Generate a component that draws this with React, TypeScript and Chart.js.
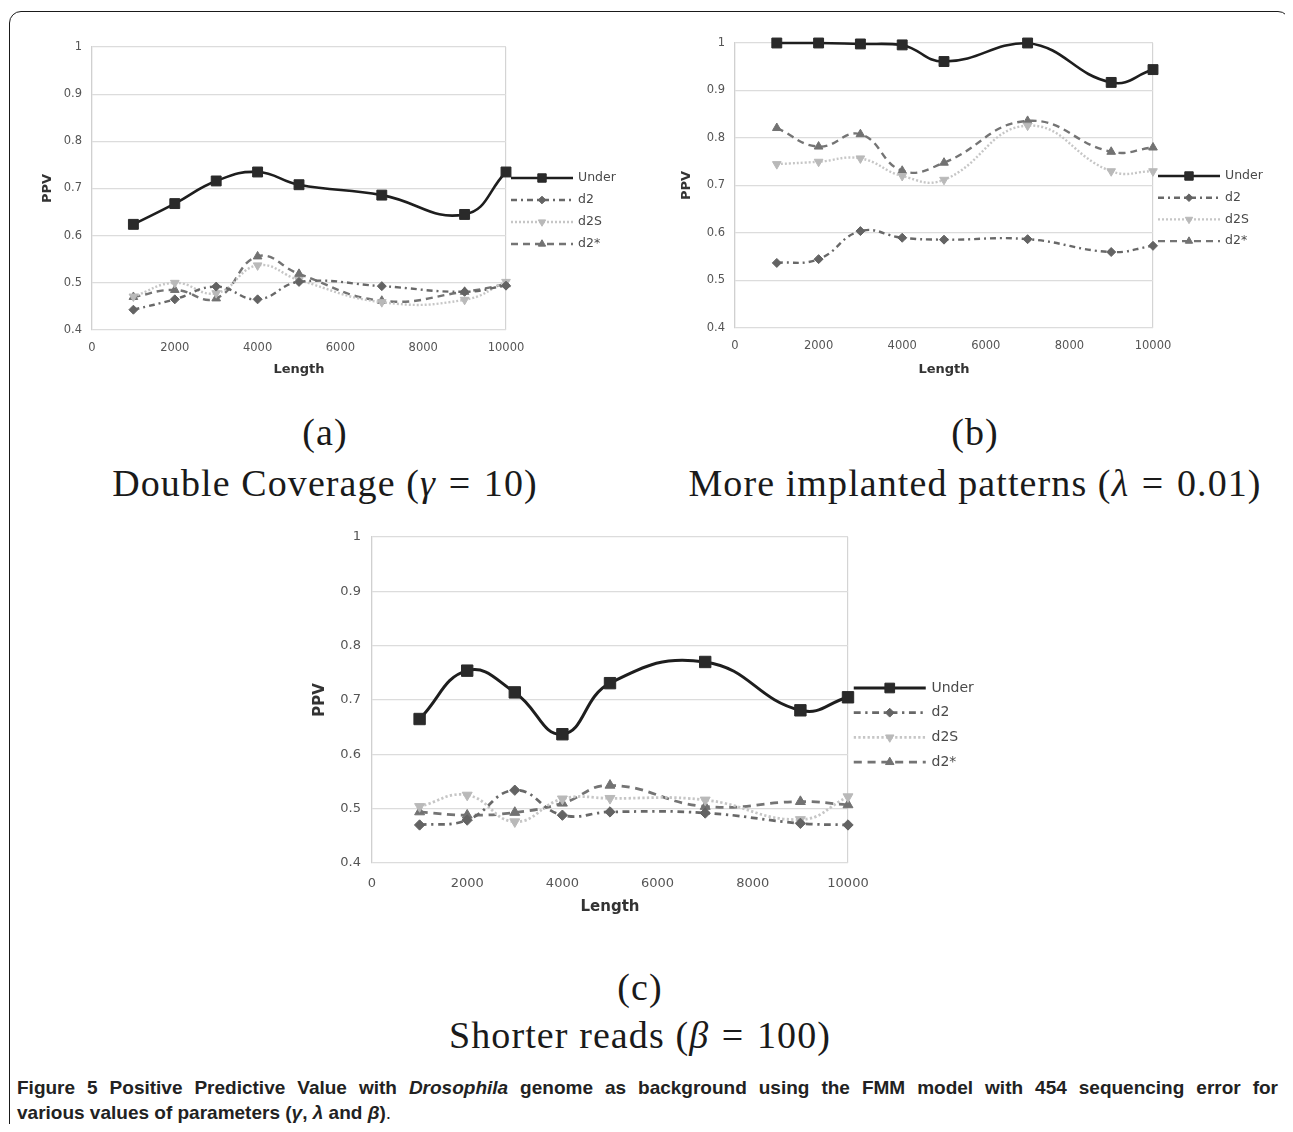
import React, { useEffect, useRef } from "react";
import { Chart, registerables } from "chart.js";
import { drawPoint } from "chart.js/helpers";

Chart.register(...registerables);

// ---------- data ----------
const lengths = [1000, 2000, 3000, 4000, 5000, 7000, 9000, 10000];
const seriesNames = ["Under", "d2", "d2S", "d2*"];
const xTickValues = [0, 2000, 4000, 6000, 8000, 10000];
const xTickLabels = ["0", "2000", "4000", "6000", "8000", "10000"];
const yTickValues = [0.4, 0.5, 0.6, 0.7, 0.8, 0.9, 1];
const yTickLabels = ["0.4", "0.5", "0.6", "0.7", "0.8", "0.9", "1"];
const xAxisTitle = "Length";
const yAxisTitle = "PPV";

// (a) Double coverage
const aUnder = [0.624, 0.668, 0.716, 0.735, 0.708, 0.686, 0.645, 0.735];
const aD2 = [0.443, 0.465, 0.492, 0.465, 0.502, 0.493, 0.481, 0.494];
const aD2S = [0.471, 0.5, 0.478, 0.537, 0.506, 0.459, 0.464, 0.502];
const aD2Star = [0.47, 0.485, 0.467, 0.556, 0.519, 0.462, 0.481, 0.497];

// (b) More implanted patterns
const bUnder = [1.0, 1.0, 0.998, 0.996, 0.961, 1.0, 0.917, 0.944];
const bD2 = [0.537, 0.545, 0.604, 0.59, 0.586, 0.587, 0.56, 0.573];
const bD2S = [0.745, 0.75, 0.757, 0.72, 0.712, 0.826, 0.73, 0.73];
const bD2Star = [0.821, 0.782, 0.808, 0.731, 0.748, 0.836, 0.771, 0.78];

// (c) Shorter reads
const cUnder = [0.665, 0.754, 0.714, 0.637, 0.731, 0.77, 0.681, 0.705];
const cD2 = [0.47, 0.479, 0.534, 0.488, 0.494, 0.492, 0.473, 0.47];
const cD2S = [0.504, 0.525, 0.476, 0.518, 0.519, 0.516, 0.48, 0.522];
const cD2Star = [0.494, 0.488, 0.493, 0.51, 0.543, 0.504, 0.513, 0.507];

// ---------- styles ----------
const seriesStyles = [
  { color: "#1e1e1e", width: 2.6, dash: [] as number[], point: "rect", radius: 7, rotation: 0, pointColor: "#2a2a2a" },
  { color: "#686868", width: 2.4, dash: [6, 4, 2, 4], point: "rectRot", radius: 4.5, rotation: 0, pointColor: "#636363" },
  { color: "#c6c6c6", width: 2.4, dash: [2, 2], point: "triangle", radius: 5, rotation: 180, pointColor: "#b9b9b9" },
  { color: "#747474", width: 2.4, dash: [7, 5], point: "triangle", radius: 5, rotation: 0, pointColor: "#727272" },
];

const FONT = "'DejaVu Sans', 'Liberation Sans', sans-serif";

const sideLegendPlugin = {
  id: "sideLegend",
  afterDraw(chart: any, _args: any, opts: any) {
    const { ctx, chartArea } = chart;
    const x0 = chartArea.right + opts.gap;
    chart.data.datasets.forEach((ds: any, i: number) => {
      const y = opts.top + i * opts.spacing;
      ctx.save();
      ctx.strokeStyle = ds.borderColor;
      ctx.lineWidth = ds.borderWidth;
      ctx.setLineDash(ds.borderDash || []);
      ctx.beginPath();
      ctx.moveTo(x0, y);
      ctx.lineTo(x0 + opts.lineLen, y);
      ctx.stroke();
      ctx.setLineDash([]);
      ctx.fillStyle = ds.pointBackgroundColor;
      ctx.strokeStyle = ds.pointBorderColor;
      ctx.lineWidth = 1;
      drawPoint(
        ctx,
        { pointStyle: ds.pointStyle, rotation: ds.pointRotation, radius: ds.pointRadius * 0.85, borderWidth: 1 } as any,
        x0 + opts.lineLen / 2,
        y
      );
      ctx.fillStyle = opts.color;
      ctx.font = `${opts.fontSize}px ${FONT}`;
      ctx.textBaseline = "middle";
      ctx.textAlign = "left";
      ctx.fillText(ds.label, x0 + opts.lineLen + opts.textGap, y);
      ctx.restore();
    });
  },
};

type Layout = {
  left: number; top: number; w: number; h: number;
  yAxisWidth: number; padTop: number; padRight: number; xAxisHeight: number;
  ppvPad: number; lengthPad: number; tickFont: number; titleFont: number;
  xTickPad: number; yTickPad: number;
  legendTop: number; legendSpacing: number; legendLine: number; legendFont: number;
  scale: number;
};

function PPVChart({ values, layout }: { values: number[][]; layout: Layout }) {
  const ref = useRef<HTMLCanvasElement>(null);
  useEffect(() => {
    const s = layout.scale;
    const chart = new Chart(ref.current as HTMLCanvasElement, {
      type: "line",
      data: {
        datasets: values.map((vals, i) => {
          const st = seriesStyles[i];
          return {
            label: seriesNames[i],
            data: lengths.map((x, j) => ({ x, y: vals[j] })),
            borderColor: st.color,
            borderWidth: st.width * s,
            borderDash: st.dash.map((d) => d * s),
            pointStyle: st.point,
            pointRadius: st.radius * s,
            pointRotation: st.rotation,
            pointBackgroundColor: st.pointColor,
            pointBorderColor: st.pointColor,
            pointBorderWidth: 1,
            tension: 0.45,
            fill: false,
            clip: 12,
          } as any;
        }),
      },
      options: {
        animation: false,
        responsive: false,
        maintainAspectRatio: false,
        devicePixelRatio: 1,
        layout: { padding: { top: layout.padTop, right: layout.padRight, left: 0, bottom: 0 } },
        plugins: {
          legend: { display: false },
          tooltip: { enabled: false },
          sideLegend: {
            top: layout.legendTop,
            spacing: layout.legendSpacing,
            gap: 5 * s,
            lineLen: layout.legendLine,
            textGap: 5 * s,
            fontSize: layout.legendFont,
            color: "#4a4a4a",
          },
        } as any,
        scales: {
          x: {
            type: "linear",
            min: 0,
            max: 10000,
            afterFit: (sc: any) => { sc.height = layout.xAxisHeight; },
            afterBuildTicks: (sc: any) => { sc.ticks = xTickValues.map((v) => ({ value: v })); },
            ticks: {
              callback: (_v: any, i: number) => xTickLabels[i],
              font: { family: FONT, size: layout.tickFont },
              color: "#555",
              padding: layout.xTickPad,
              maxRotation: 0,
              autoSkip: false,
            },
            grid: {
              drawTicks: false,
              color: (c: any) =>
                c.tick && (c.tick.value === 0 || c.tick.value === 10000) ? "#d4d4d4" : "rgba(0,0,0,0)",
              lineWidth: 1.2,
            },
            border: { display: false },
            title: {
              display: true,
              text: xAxisTitle,
              font: { family: FONT, size: layout.titleFont, weight: "bold" },
              color: "#333",
              padding: { top: 0, bottom: layout.lengthPad },
            },
          },
          y: {
            type: "linear",
            min: 0.4,
            max: 1,
            afterFit: (sc: any) => { sc.width = layout.yAxisWidth; },
            afterBuildTicks: (sc: any) => { sc.ticks = yTickValues.map((v) => ({ value: v })); },
            ticks: {
              callback: (_v: any, i: number) => yTickLabels[i],
              font: { family: FONT, size: layout.tickFont },
              color: "#555",
              padding: layout.yTickPad,
            },
            grid: { drawTicks: false, color: "#dcdcdc", lineWidth: 1.2 },
            border: { display: true, color: "#d0d0d0", width: 1.2 },
            title: {
              display: true,
              text: yAxisTitle,
              font: { family: FONT, size: layout.titleFont, weight: "bold" },
              color: "#333",
              padding: { top: layout.ppvPad, bottom: 0 },
            },
          },
        },
      } as any,
      plugins: [sideLegendPlugin as any],
    });
    return () => chart.destroy();
  }, []);
  return (
    <canvas
      ref={ref}
      width={layout.w}
      height={layout.h}
      style={{ position: "absolute", left: layout.left, top: layout.top, width: layout.w, height: layout.h }}
    />
  );
}

const layoutA: Layout = {
  left: 32, top: 22, w: 600, h: 370,
  yAxisWidth: 52, padTop: 17, padRight: 134, xAxisHeight: 70,
  ppvPad: 0, lengthPad: 23, tickFont: 11.5, titleFont: 13,
  xTickPad: 11, yTickPad: 10,
  legendTop: 148, legendSpacing: 22, legendLine: 62, legendFont: 12.5, scale: 1,
};
const layoutB: Layout = {
  left: 667, top: 18, w: 600, h: 372,
  yAxisWidth: 60, padTop: 17, padRight: 122, xAxisHeight: 70,
  ppvPad: 4, lengthPad: 21, tickFont: 11.5, titleFont: 13,
  xTickPad: 11, yTickPad: 10,
  legendTop: 150, legendSpacing: 21.7, legendLine: 62, legendFont: 12.5, scale: 1,
};
const layoutC: Layout = {
  left: 292, top: 510, w: 700, h: 410,
  yAxisWidth: 72, padTop: 19, padRight: 152, xAxisHeight: 65,
  ppvPad: 11, lengthPad: 12, tickFont: 13, titleFont: 15,
  xTickPad: 13, yTickPad: 11,
  legendTop: 170, legendSpacing: 24.7, legendLine: 72, legendFont: 14, scale: 1.15,
};

const serif = "'Liberation Serif', 'DejaVu Serif', serif";

function SubTitle({ cx, y1, y2, label, children }: { cx: number; y1: number; y2: number; label: string; children: React.ReactNode }) {
  const fs = 38;
  const base: React.CSSProperties = {
    position: "absolute", left: cx - 350, width: 700, height: 44, lineHeight: "44px",
    textAlign: "center", fontFamily: serif, fontSize: fs, color: "#1a1a1a", whiteSpace: "nowrap",
    letterSpacing: "1.1px",
  };
  return (
    <>
      <div style={{ ...base, top: y1 - 22 }}>{label}</div>
      <div style={{ ...base, top: y2 - 22 }}>{children}</div>
    </>
  );
}

const Eq = () => <span style={{ margin: "0 2px" }}>=</span>;

export default function App() {
  const capFont = "'Liberation Sans', 'DejaVu Sans', sans-serif";
  return (
    <div style={{ position: "relative", width: 1277, height: 1116, overflow: "hidden", background: "#fff" }}>
      <div style={{ position: "absolute", left: 1, top: 3, width: 1281, height: 1200, boxSizing: "border-box", border: "1.5px solid #1a1a1a", borderRadius: 12 }} />
      <PPVChart values={[aUnder, aD2, aD2S, aD2Star]} layout={layoutA} />
      <PPVChart values={[bUnder, bD2, bD2S, bD2Star]} layout={layoutB} />
      <PPVChart values={[cUnder, cD2, cD2S, cD2Star]} layout={layoutC} />
      <SubTitle cx={317} y1={424} y2={475} label="(a)">
        Double Coverage (<i>γ</i> <Eq /> 10)
      </SubTitle>
      <SubTitle cx={967} y1={424} y2={475} label="(b)">
        More implanted patterns (<i>λ</i> <Eq /> 0.01)
      </SubTitle>
      <SubTitle cx={632} y1={979} y2={1027} label="(c)">
        Shorter reads (<i>β</i> <Eq /> 100)
      </SubTitle>
      <div style={{ position: "absolute", left: 9, top: 1067, width: 1261, height: 25, lineHeight: "25px", fontFamily: capFont, fontSize: 19, fontWeight: 700, color: "#222", textAlign: "justify", textAlignLast: "justify", whiteSpace: "nowrap" } as any}>
        Figure 5 Positive Predictive Value with <i>Drosophila</i> genome as background using the FMM model with 454 sequencing error for
      </div>
      <div style={{ position: "absolute", left: 9, top: 1092, height: 25, lineHeight: "25px", fontFamily: capFont, fontSize: 19, fontWeight: 700, color: "#222", whiteSpace: "nowrap" }}>
        various values of parameters (<i>γ</i>, <i>λ</i> and <i>β</i>)<span style={{ fontWeight: 400 }}>.</span>
      </div>
    </div>
  );
}
